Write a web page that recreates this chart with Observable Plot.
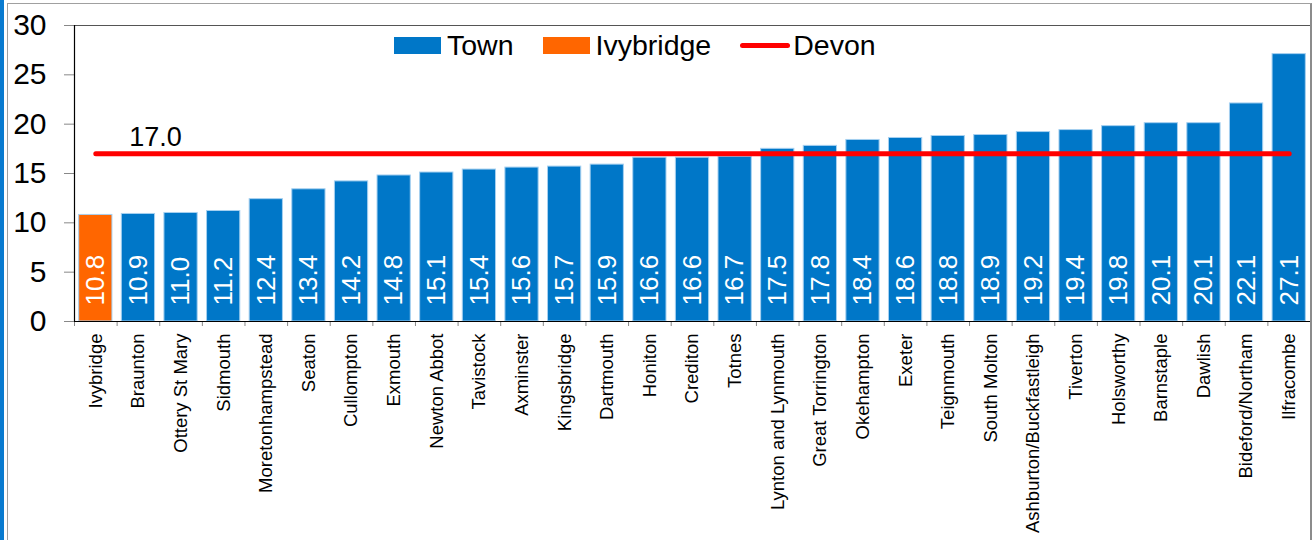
<!DOCTYPE html>
<html>
<head>
<meta charset="utf-8">
<script src="https://cdn.jsdelivr.net/npm/d3@7"></script>
<script src="https://cdn.jsdelivr.net/npm/@observablehq/plot@0.6"></script>
<style>
  html, body { margin: 0; padding: 0; background: #fff; overflow: hidden; }
  #wrap { position: relative; width: 1316px; height: 540px; font-family: "Liberation Sans", Arial, sans-serif; }
  #wrap svg { position: absolute; left: 0; top: 0; }
  .strip { position: absolute; left: 0; top: 0; width: 4px; height: 540px; background: #0a7bd0; }
  .outer { position: absolute; left: 7px; top: 3px; width: 1302px; height: 600px; border-top: 1px solid #a0a0a0; border-left: 1px solid #a0a0a0; border-right: 2px solid #8c8c8c; pointer-events: none; }
  .legend { position: absolute; left: 394px; top: 30px; display: flex; align-items: center; font-size: 28.5px; line-height: 30px; color: #000; }
  .sw { display: inline-block; width: 47px; height: 17px; margin-right: 6px; }
  .ln { display: inline-block; width: 50px; height: 5px; border-radius: 3px; margin-right: 3px; }
</style>
</head>
<body>
<div id="wrap">
  <div class="strip"></div>
  <div class="outer"></div>
</div>
<script>
const towns = ["Ivybridge","Braunton","Ottery St Mary","Sidmouth","Moretonhampstead","Seaton","Cullompton","Exmouth","Newton Abbot","Tavistock","Axminster","Kingsbridge","Dartmouth","Honiton","Crediton","Totnes","Lynton and Lynmouth","Great Torrington","Okehampton","Exeter","Teignmouth","South Molton","Ashburton/Buckfastleigh","Tiverton","Holsworthy","Barnstaple","Dawlish","Bideford/Northam","Ilfracombe"];
const values = [10.8,10.9,11.0,11.2,12.4,13.4,14.2,14.8,15.1,15.4,15.6,15.7,15.9,16.6,16.6,16.7,17.5,17.8,18.4,18.6,18.8,18.9,19.2,19.4,19.8,20.1,20.1,22.1,27.1];
const devon = 17.0;
const highlight = "Ivybridge";
const yTicks = [0,5,10,15,20,25,30];
const seriesNames = ["Town","Ivybridge","Devon"];

const BLUE = "#0077c8", ORANGE = "#ff6600", RED = "#ff0000";
const data = towns.map((t, i) => ({town: t, value: values[i], group: t === highlight ? "Ivybridge" : "Town"}));
const devonLine = [{town: towns[0], value: devon}, {town: towns[towns.length - 1], value: devon}];

const W = 1316, H = 540, mL = 74, mR = 6;
const step = (W - mL - mR) / towns.length;
const fmt = d3.format(".1f");

const chart = Plot.plot({
  width: W, height: H,
  marginLeft: mL, marginRight: mR, marginTop: 25, marginBottom: 219,
  style: {fontFamily: "Liberation Sans, Arial, sans-serif", color: "#000", background: "transparent"},
  x: {domain: towns, paddingInner: 0.22, paddingOuter: 0.11, round: false, label: null},
  y: {domain: [0, 30], label: null},
  marks: [
    Plot.frame({stroke: "#555"}),
    Plot.barY(data, {x: "town", y: "value", fill: d => d.group === "Ivybridge" ? ORANGE : BLUE, stroke: "#a6d0f0", strokeWidth: 1}),
    Plot.text(data, {x: "town", y: 0, text: d => fmt(d.value), rotate: -90, textAnchor: "start", dy: -16, fill: "#fff", fontSize: 26}),
    Plot.line(devonLine, {x: "town", y: "value", stroke: RED, strokeWidth: 5, strokeLinecap: "round"}),
    Plot.text([devon], {x: () => towns[1], y: d => d, text: d => fmt(d), dx: 17, dy: -16, fontSize: 27, fill: "#000"}),
    Plot.axisY({ticks: yTicks, tickSize: 10, tickPadding: 18, fontSize: 30, stroke: "#888", label: null}),
    Plot.axisX({tickSize: 5, tickFormat: () => "", dx: -step / 2, stroke: "#888", label: null}),
    Plot.axisX({tickSize: 0, tickPadding: 12, tickRotate: -90, fontSize: 18.5, label: null}),
    Plot.ruleY([0], {stroke: "#000", strokeWidth: 1.2}),
    Plot.ruleX([towns[0]], {y1: 0, y2: 30, dx: -step / 2, stroke: "#000", strokeWidth: 1.2})
  ]
});

const wrap = document.getElementById("wrap");
wrap.insertBefore(chart, wrap.firstChild);

const legend = document.createElement("div");
legend.className = "legend";
const colors = {Town: BLUE, Ivybridge: ORANGE, Devon: RED};
seriesNames.forEach((name, i) => {
  const mark = document.createElement("span");
  mark.className = name === "Devon" ? "ln" : "sw";
  mark.style.background = colors[name];
  const label = document.createElement("span");
  label.textContent = name;
  if (i < seriesNames.length - 1) label.style.marginRight = "29px";
  legend.appendChild(mark);
  legend.appendChild(label);
});
wrap.appendChild(legend);
</script>
</body>
</html>
